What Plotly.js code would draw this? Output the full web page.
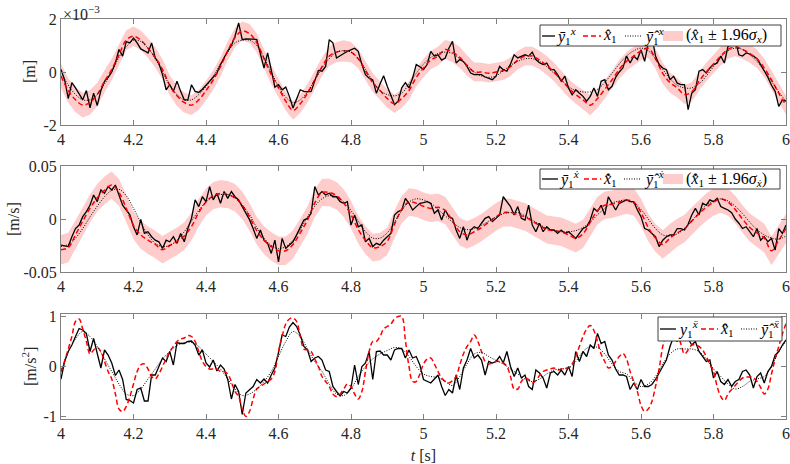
<!DOCTYPE html>
<html>
<head>
<meta charset="utf-8">
<script src="https://cdn.plot.ly/plotly-3.0.1.min.js"></script>
<style>html,body{margin:0;padding:0;background:#fff;}#chart{width:790px;height:464px;}</style>
</head>
<body>
<div id="chart"></div>
<script>
// ---------------- DATA ----------------
// Time grids: noisy measurements every 0.01 s, estimates every 0.02 s, from 4 s to 6 s
var tStart = 4, dtMeas = 0.01, dtEst = 0.02;

// Panel 1: position [m], values in units of 1e-3 m
var posMeas = [0.1,-0.3,-1.0,-0.4,-0.6,-0.85,-1.05,-0.7,-1.35,-0.8,
 -1.27,-0.7,-0.35,-0.2,0.0,0.35,0.85,0.6,1.15,1.1,
 1.28,1.1,0.87,0.8,0.72,1.1,0.53,0.34,-0.1,-0.67,
 -0.48,-0.73,-0.35,-0.73,-1.05,-1.05,-0.48,-0.73,-0.77,-0.65,
 -0.5,-0.35,-0.2,-0.04,0.28,0.55,0.8,1.0,1.35,1.85,
 1.22,1.25,1.25,1.24,1.22,0.72,0.15,0.72,0.03,-0.57,
 -0.48,-0.67,-0.57,-0.92,-1.36,-0.98,-0.67,-0.73,-0.75,-0.73,
 -0.35,0.06,0.03,0.21,1.22,1.1,0.53,0.6,0.7,0.78,
 0.85,0.9,0.78,0.28,-0.1,-0.23,-0.3,-0.8,-0.45,-0.14,
 -0.54,-0.9,-1.23,-1.1,-0.6,-0.4,-0.6,-0.23,0.28,0.2,
 0.09,0.28,0.78,0.6,0.65,0.45,0.53,0.9,1.16,0.34,
 0.47,0.4,0.21,-0.04,-0.1,-0.1,-0.1,-0.19,-0.25,-0.29,
 -0.16,0.21,0.09,0.03,0.3,0.65,0.53,0.6,0.65,0.6,
 0.75,0.47,0.35,0.28,0.34,0.09,0.09,-0.1,-0.35,-0.16,
 -0.6,-0.86,-0.67,-0.8,-0.92,-1.1,-0.92,-0.6,-0.92,-0.35,
 -0.29,-0.67,-0.54,-0.2,0.0,0.15,0.6,0.34,0.6,0.47,
 0.84,0.4,1.1,1.35,0.6,0.28,0.15,0.09,-0.29,-0.16,
 -0.42,-0.48,-0.48,-1.42,-0.8,-0.67,0.03,0.09,-0.04,0.15,
 0.28,0.34,0.6,0.34,0.97,1.03,1.22,0.65,0.6,0.72,
 0.68,0.6,0.5,0.28,0.05,-0.2,-0.5,-0.73,-1.3,-1.05,
 -1.1];
var posEst = [-0.15,-0.7,-1.05,-1.25,-1.15,-0.85,-0.35,0.1,0.65,1.2,
 1.35,1.2,0.9,0.55,0.1,-0.5,-0.9,-1.15,-1.25,-1.05,
 -0.7,-0.3,0.2,0.8,1.3,1.55,1.45,1.1,0.5,-0.1,
 -0.6,-1.1,-1.45,-1.2,-0.8,-0.3,0.2,0.6,0.75,0.8,
 0.75,0.5,0.05,-0.4,-0.7,-1.0,-1.2,-1.0,-0.7,-0.2,
 0.15,0.45,0.6,0.85,0.75,0.55,0.25,0.0,0.0,-0.05,
 0.0,0.05,0.2,0.45,0.6,0.6,0.45,0.25,0.0,-0.3,
 -0.6,-0.85,-1.05,-1.25,-1.0,-0.65,-0.3,0.1,0.4,0.6,
 0.8,0.9,0.5,-0.05,-0.4,-0.6,-0.85,-0.75,-0.35,0.0,
 0.3,0.6,0.85,0.95,0.85,0.7,0.5,0.15,-0.3,-0.8,
 -1.25];
var posSmooth = [0.0,-0.5,-0.85,-1.05,-1.05,-0.85,-0.45,0.0,0.55,0.95,
 1.2,1.15,0.9,0.5,0.0,-0.5,-0.85,-1.05,-1.05,-0.85,
 -0.55,-0.15,0.3,0.75,1.1,1.2,1.2,1.0,0.55,0.0,
 -0.55,-0.95,-1.15,-1.05,-0.75,-0.3,0.15,0.5,0.75,0.8,
 0.75,0.5,0.1,-0.35,-0.7,-0.85,-0.9,-0.8,-0.45,-0.05,
 0.3,0.55,0.7,0.75,0.7,0.5,0.25,0.0,-0.15,-0.2,
 -0.15,0.05,0.25,0.4,0.5,0.5,0.4,0.2,-0.05,-0.3,
 -0.55,-0.7,-0.75,-0.75,-0.65,-0.4,-0.05,0.3,0.6,0.8,
 0.9,0.8,0.5,0.1,-0.25,-0.5,-0.6,-0.6,-0.45,-0.15,
 0.2,0.55,0.8,0.9,0.85,0.65,0.4,0.05,-0.35,-0.75,
 -1.1];
var posBand = [0.45,0.46,0.47,0.47,0.46,0.44,0.42,0.4,0.39,0.38,
 0.37,0.37,0.37,0.38,0.38,0.38,0.38,0.38,0.37,0.37,
 0.37,0.37,0.36,0.36,0.36,0.36,0.36,0.36,0.36,0.36,
 0.35,0.35,0.35,0.35,0.35,0.35,0.35,0.36,0.38,0.4,
 0.38,0.36,0.35,0.35,0.35,0.35,0.35,0.35,0.35,0.35,
 0.35,0.35,0.35,0.36,0.38,0.4,0.38,0.36,0.35,0.35,
 0.35,0.35,0.35,0.35,0.35,0.35,0.35,0.35,0.35,0.35,
 0.35,0.35,0.36,0.38,0.36,0.35,0.35,0.35,0.35,0.35,
 0.35,0.36,0.38,0.4,0.38,0.36,0.36,0.36,0.35,0.35,
 0.35,0.35,0.35,0.36,0.36,0.35,0.35,0.35,0.35,0.35,
 0.35];

// Panel 2: velocity [m/s], values in units of 1e-2 m/s
var velMeas = [-2.46,-2.55,-2.6,-1.67,-0.9,-0.57,0.22,0.7,1.3,2.27,
 1.64,2.74,2.43,3.06,2.74,3.2,2.27,1.3,0.85,0.4,
 -0.73,-1.5,-0.03,-1.36,-1.2,-1.67,-2.0,-2.15,-2.78,-2.0,
 -2.15,-1.67,-2.3,-1.36,-2.15,-0.9,0.06,1.8,1.17,2.1,
 1.64,3.06,1.8,2.43,1.48,2.59,1.95,2.59,2.1,1.8,
 1.17,0.54,-0.06,-0.9,-1.83,-1.04,-2.0,-2.3,-3.25,-2.0,
 -4.04,-1.83,-2.78,-2.46,-2.15,-1.5,-0.73,-0.1,0.06,0.54,
 3.06,2.27,2.59,2.27,2.43,2.1,2.1,1.64,1.48,1.64,
 -0.57,0.38,-0.73,-0.57,-2.15,-1.83,-2.6,-2.3,-2.45,-2.0,
 -1.67,-1.36,0.38,0.7,0.85,1.95,1.48,0.85,1.17,1.48,
 1.55,1.64,1.48,0.54,0.85,-0.1,0.85,0.22,0.06,-1.04,
 -1.83,-0.73,-2.0,-1.04,-0.73,-0.9,-0.4,0.06,0.22,-0.25,
 0.06,0.38,2.1,1.64,1.17,0.38,1.17,0.06,-0.1,1.3,
 -0.57,-1.2,-0.4,-1.2,-0.73,-1.04,-1.04,-1.36,-1.04,-1.36,
 -1.2,-1.5,-1.83,-1.36,-0.9,-0.73,-0.1,1.0,0.7,1.3,
 0.38,2.1,1.48,0.85,1.48,1.64,1.8,1.64,1.64,0.85,
 0.22,-0.9,-1.04,-1.36,-1.67,-2.6,-2.0,-1.67,-1.5,-1.5,
 -0.9,-0.9,-1.04,-0.5,0.38,1.0,0.38,1.48,1.3,1.8,
 1.64,1.95,1.17,1.0,0.85,0.6,0.0,-0.4,-0.9,-0.73,
 -1.2,-1.67,-0.9,-2.0,-1.67,-2.15,-1.83,-2.93,-0.9,-1.36,
 -0.57];
var velEst = [-2.9,-2.7,-1.5,-0.2,1.0,2.0,2.7,3.2,2.5,1.0,
 -0.6,-1.5,-2.0,-2.4,-2.9,-2.5,-2.1,-1.6,-0.7,0.6,
 1.6,2.2,2.4,2.3,2.0,1.3,0.2,-1.1,-2.0,-2.6,
 -3.0,-3.0,-2.4,-1.3,-0.1,1.5,2.5,2.5,2.2,1.5,
 0.4,-1.0,-2.0,-2.7,-2.6,-2.1,-0.5,0.9,1.6,1.5,
 1.2,1.0,1.1,0.8,-0.2,-1.2,-1.5,-1.2,-0.8,-0.3,
 0.2,0.6,0.6,0.4,0.2,-0.2,-0.6,-1.0,-1.1,-1.2,
 -1.5,-1.8,-1.4,-0.3,0.8,1.3,1.4,1.6,1.8,1.6,
 0.6,-0.8,-1.8,-2.4,-1.8,-1.3,-0.9,-0.2,0.5,1.1,
 1.6,1.9,1.6,0.9,0.0,-0.8,-1.3,-1.8,-3.0,-2.0,
 -0.9];
var velSmooth = [-2.6,-2.4,-1.8,-0.9,0.2,1.2,2.1,2.7,2.8,2.2,
 1.0,-0.3,-1.5,-2.3,-2.6,-2.5,-2.0,-1.2,-0.2,0.8,
 1.6,2.1,2.3,2.3,2.0,1.3,0.4,-0.8,-1.8,-2.5,
 -2.8,-2.6,-2.0,-1.0,0.2,1.2,1.9,2.2,2.1,1.6,
 0.8,-0.2,-1.2,-1.8,-1.8,-1.3,-0.3,0.8,1.6,1.9,
 1.8,1.5,0.9,0.3,-0.3,-0.8,-1.0,-0.9,-0.6,-0.2,
 0.2,0.5,0.6,0.6,0.3,-0.1,-0.5,-0.9,-1.1,-1.2,
 -1.2,-1.1,-0.8,-0.3,0.4,1.0,1.5,1.7,1.8,1.5,
 0.9,0.0,-0.9,-1.5,-1.6,-1.4,-0.9,-0.2,0.6,1.3,
 1.7,1.9,1.7,1.2,0.5,-0.3,-1.0,-1.5,-1.8,-1.9,
 -1.6];
var velBand = [1.4,1.4,1.38,1.35,1.32,1.3,1.3,1.28,1.28,1.28,
 1.3,1.3,1.3,1.3,1.3,1.3,1.3,1.3,1.3,1.3,
 1.28,1.28,1.28,1.28,1.3,1.3,1.3,1.3,1.32,1.34,
 1.35,1.35,1.34,1.32,1.3,1.3,1.3,1.3,1.3,1.3,
 1.3,1.3,1.32,1.32,1.3,1.3,1.3,1.3,1.3,1.3,
 1.3,1.3,1.3,1.3,1.3,1.3,1.3,1.3,1.3,1.3,
 1.3,1.3,1.3,1.3,1.3,1.3,1.3,1.32,1.34,1.35,
 1.35,1.35,1.34,1.32,1.3,1.3,1.3,1.3,1.3,1.3,
 1.3,1.3,1.32,1.35,1.35,1.32,1.3,1.3,1.3,1.3,
 1.3,1.3,1.3,1.3,1.3,1.32,1.34,1.35,1.36,1.36,
 1.36];

// Panel 3: acceleration [m/s^2]
var accMeas = [-0.25,0.1,0.3,0.43,0.6,0.76,0.73,0.66,0.3,0.56,
 0.26,-0.03,0.33,0.23,0.07,-0.18,-0.07,-0.26,-0.66,-0.68,
 -0.73,-0.46,-0.43,-0.69,-0.69,-0.17,-0.17,0.0,0.17,0.1,
 0.3,0.03,0.48,0.46,0.46,0.5,0.51,0.43,0.23,0.33,
 0.07,-0.01,0.13,-0.09,0.03,-0.05,-0.26,-0.65,-0.36,-0.5,
 -0.96,-0.53,-0.46,-0.4,-0.26,-0.33,-0.25,-0.33,-0.17,-0.03,
 0.28,0.63,0.6,0.79,0.88,0.8,0.63,0.4,0.33,0.1,
 0.17,0.2,0.13,-0.07,-0.1,-0.4,-0.5,-0.59,-0.5,-0.53,
 -0.43,0.03,-0.36,0.0,0.07,0.3,-0.26,0.3,0.31,0.23,
 0.23,0.13,0.33,0.36,0.36,0.17,0.33,0.17,0.2,0.03,
 -0.26,-0.3,-0.33,-0.25,-0.17,-0.4,-0.58,-0.46,-0.53,-0.17,
 -0.46,-0.03,0.13,0.36,0.17,0.23,0.13,-0.17,0.1,0.07,
 0.1,0.2,0.07,0.3,0.0,-0.2,-0.03,-0.23,-0.17,-0.4,
 -0.46,-0.07,-0.13,-0.23,-0.43,-0.13,-0.1,-0.17,-0.07,-0.17,
 0.0,-0.2,0.3,0.1,0.3,0.2,0.43,0.36,0.66,0.46,
 0.5,0.23,0.13,-0.05,-0.17,-0.17,-0.2,-0.46,-0.33,-0.46,
 -0.26,-0.4,-0.4,-0.36,-0.26,-0.13,0.0,0.13,0.4,0.6,
 0.5,0.7,0.53,0.56,0.43,0.5,0.3,0.2,0.1,0.13,
 -0.23,-0.1,-0.3,-0.36,-0.26,-0.4,-0.3,-0.26,-0.1,-0.07,
 -0.17,-0.43,-0.2,-0.13,-0.33,-0.1,0.0,0.23,0.3,0.43,
 0.53];
var accEst = [-0.1,0.1,0.35,0.6,0.9,0.95,0.75,0.5,0.25,0.33,
 0.38,0.3,0.1,-0.1,-0.25,-0.55,-0.85,-0.9,-0.8,-0.6,
 -0.35,-0.1,0.03,0.05,-0.05,-0.2,-0.25,-0.15,0.0,0.15,
 0.3,0.4,0.5,0.55,0.57,0.62,0.6,0.5,0.3,0.1,
 0.0,-0.05,-0.05,-0.05,-0.1,-0.1,-0.15,-0.3,-0.5,-0.6,
 -0.85,-1.0,-0.9,-0.65,-0.45,-0.4,-0.35,-0.3,-0.25,-0.1,
 0.3,0.6,0.85,0.95,0.97,0.9,0.6,0.35,0.33,0.3,
 0.15,0.0,-0.2,-0.3,-0.4,-0.55,-0.6,-0.55,-0.45,-0.35,
 -0.4,-0.55,-0.65,-0.5,-0.1,0.3,0.5,0.5,0.6,0.75,
 0.8,0.85,0.95,1.0,1.0,0.53,0.0,-0.3,-0.3,-0.15,
 0.05,0.15,0.17,0.05,-0.1,-0.23,-0.3,-0.33,-0.28,-0.2,
 0.03,0.25,0.4,0.5,0.63,0.5,0.3,0.1,0.05,0.07,
 0.1,0.1,0.07,0.0,-0.2,-0.45,-0.45,-0.3,-0.23,-0.26,
 -0.33,-0.28,-0.18,-0.1,-0.07,-0.05,-0.03,-0.07,-0.05,-0.03,
 -0.03,0.05,0.2,0.4,0.6,0.75,0.82,0.72,0.5,0.25,
 0.1,-0.03,0.0,0.1,0.2,0.26,0.15,-0.1,-0.3,-0.5,
 -0.78,-0.9,-0.85,-0.7,-0.4,-0.05,0.4,0.65,0.85,0.85,
 0.7,0.45,0.25,0.33,0.43,0.43,0.4,0.33,0.2,0.05,
 -0.1,-0.4,-0.6,-0.68,-0.55,-0.46,-0.38,-0.3,-0.23,-0.21,
 -0.21,-0.22,-0.3,-0.42,-0.55,-0.45,-0.15,0.15,0.4,0.65,
 0.86];
var accSmooth = [-0.1,0.3,0.55,0.7,0.6,0.4,0.15,-0.1,-0.35,-0.55,
 -0.58,-0.45,-0.25,-0.05,0.15,0.3,0.42,0.48,0.48,0.4,
 0.25,0.1,-0.05,-0.25,-0.45,-0.58,-0.55,-0.45,-0.3,-0.1,
 0.2,0.5,0.7,0.6,0.35,0.1,-0.1,-0.35,-0.55,-0.58,
 -0.45,-0.2,0.0,0.15,0.25,0.32,0.38,0.35,0.2,0.0,
 -0.15,-0.2,-0.22,-0.3,-0.38,-0.2,0.05,0.25,0.28,0.2,
 0.12,0.05,-0.05,-0.15,-0.25,-0.3,-0.25,-0.15,-0.07,-0.05,
 -0.03,0.1,0.3,0.4,0.38,0.25,0.05,-0.1,-0.15,-0.3,
 -0.4,-0.35,-0.2,0.05,0.25,0.35,0.35,0.35,0.3,0.15,
 -0.05,-0.2,-0.35,-0.45,-0.4,-0.3,-0.25,-0.2,0.0,0.3,
 0.5];

// Tick labels
var xTickVals = [4,4.2,4.4,4.6,4.8,5,5.2,5.4,5.6,5.8,6];
var xTickText = ['4','4.2','4.4','4.6','4.8','5','5.2','5.4','5.6','5.8','6'];
var posTickVals = [-2,0,2], posTickText = ['-2','0','2'];
var velTickVals = [-5,0,5], velTickText = ['-0.05','0','0.05'];
var accTickVals = [-1,0,1], accTickText = ['-1','0','1'];

// Axis titles
var yTitles = ['[m]', '[m/s]', '[m/s<sup>2</sup>]'];
var xTitle = '<i>t</i> [s]';
var expLabel = '\u00d710<sup>\u22123</sup>';

// Legend labels
var HAT='\u0302', BAR='\u0304', DOT='\u0307', DDOT='\u0308';
var legPos = ['<i>y'+BAR+'</i><sub>1</sub><sup><i>x</i></sup>', '<i>x'+HAT+'</i><sub>1</sub>',
  '<i>y'+BAR+HAT+'</i><sub>1</sub><sup><i>x</i></sup>', '(<i>x'+HAT+'</i><sub>1</sub> \u00b1 1.96<i>\u03c3</i><sub><i>x</i></sub>)'];
var legVel = ['<i>y'+BAR+'</i><sub>1</sub><sup><i>x'+DOT+'</i></sup>', '<i>x'+HAT+DOT+'</i><sub>1</sub>',
  '<i>y'+BAR+HAT+'</i><sub>1</sub><sup><i>x'+DOT+'</i></sup>', '(<i>x'+HAT+DOT+'</i><sub>1</sub> \u00b1 1.96<i>\u03c3</i><sub><i>x'+DOT+'</i></sub>)'];
var legAcc = ['<i>y</i><sub>1</sub><sup><i>x'+DDOT+'</i></sup>', '<i>x'+HAT+DDOT+'</i><sub>1</sub>',
  '<i>y'+BAR+HAT+'</i><sub>1</sub><sup><i>x'+DDOT+'</i></sup>'];

// ---------------- BUILD ----------------
function grid(n, dt){ var a=[]; for(var i=0;i<n;i++){ a.push(+(tStart+i*dt).toFixed(4)); } return a; }
var FONT = '"Liberation Serif", serif';
var TXT = '#262626';
var BLACK='#000000', RED='#ff0000', PINK='rgb(255,204,204)';
var W = 790, H = 464, PL = 61, PR = 4, PW = W-PL-PR;
function px(x){ return (x-PL)/PW; }
function py(y){ return 1-y/H; }

var STY = {
  meas:{color:BLACK, width:1.3, dash:'solid'},
  est:{color:RED, width:1.5, dash:'5px,3px'},
  smooth:{color:BLACK, width:1, dash:'1px,1.5px'}
};

function band(est, hw, xa, ya, name){
  var t = grid(est.length, dtEst);
  var up = est.map(function(v,i){return v+hw[i];});
  var lo = est.map(function(v,i){return v-hw[i];});
  return {x:t.concat(t.slice().reverse()), y:up.concat(lo.slice().reverse()), type:'scatter', mode:'lines',
    fill:'toself', fillcolor:PINK, line:{width:0, color:PINK}, name:name, showlegend:false,
    xaxis:xa, yaxis:ya, hoverinfo:'skip'};
}
function line(v, dt, sty, shape, xa, ya, name){
  return {x:grid(v.length, dt), y:v, type:'scatter', mode:'lines',
    line:{color:sty.color,width:sty.width,dash:sty.dash,shape:shape},
    name:name, showlegend:false, xaxis:xa, yaxis:ya};
}

var data = [
  band(posEst, posBand, 'x', 'y', legPos[3]),
  line(posMeas, dtMeas, STY.meas, 'linear', 'x', 'y', legPos[0]),
  line(posEst, dtEst, STY.est, 'spline', 'x', 'y', legPos[1]),
  line(posSmooth, dtEst, STY.smooth, 'spline', 'x', 'y', legPos[2]),
  band(velEst, velBand, 'x2', 'y2', legVel[3]),
  line(velMeas, dtMeas, STY.meas, 'linear', 'x2', 'y2', legVel[0]),
  line(velEst, dtEst, STY.est, 'spline', 'x2', 'y2', legVel[1]),
  line(velSmooth, dtEst, STY.smooth, 'spline', 'x2', 'y2', legVel[2]),
  line(accMeas, dtMeas, STY.meas, 'linear', 'x3', 'y3', legAcc[0]),
  line(accEst, dtMeas, STY.est, 'spline', 'x3', 'y3', legAcc[1]),
  line(accSmooth, dtEst, STY.smooth, 'spline', 'x3', 'y3', legAcc[2])
];

function xax(anchor){
  return {anchor:anchor, domain:[0,1], range:[4,6], tickmode:'array', tickvals:xTickVals, ticktext:xTickText,
    ticks:'inside', ticklen:5, tickcolor:'#808080', showline:true, linecolor:'#808080', linewidth:1, mirror:'ticks',
    showgrid:false, zeroline:false, ticklabeloverflow:'allow', tickfont:{family:FONT,size:16,color:TXT}};
}
function yax(anchor, dom, rng, tv, tt){
  return {anchor:anchor, domain:dom, range:rng, tickmode:'array', tickvals:tv, ticktext:tt,
    ticks:'inside', ticklen:5, tickcolor:'#808080', showline:true, linecolor:'#808080', linewidth:1, mirror:'ticks',
    showgrid:false, zeroline:false, ticklabeloverflow:'allow', tickfont:{family:FONT,size:16,color:TXT}};
}
var x3 = xax('y3');
x3.title = {text:xTitle, font:{family:FONT,size:16,color:TXT}, standoff:9};

var shapes = [], annotations = [];
// y-axis titles, placed beside each panel's tick labels
[[30,72],[13,219],[29,367]].forEach(function(p,i){
  annotations.push({xref:'paper', yref:'paper', x:px(p[0]), y:py(p[1]), xanchor:'center', yanchor:'middle',
    textangle:-90, showarrow:false, text:yTitles[i], font:{family:FONT,size:16,color:TXT}});
});
// exponent of the top axis
annotations.push({xref:'paper', yref:'paper', x:0, y:py(1), xanchor:'left', yanchor:'top', showarrow:false,
  text:expLabel, font:{family:FONT,size:16,color:TXT}});

// Hand-placed legends (box + samples + labels), one per panel
function legend(box, cy, items){
  shapes.push({type:'rect', xref:'paper', yref:'paper', x0:px(box[0]), x1:px(box[1]), y0:py(box[3]), y1:py(box[2]),
    fillcolor:'#ffffff', line:{color:'#404040', width:1}, layer:'above'});
  items.forEach(function(it){
    if(it.kind === 'band'){
      shapes.push({type:'rect', xref:'paper', yref:'paper', x0:px(it.s0), x1:px(it.s1), y0:py(cy+5), y1:py(cy-5),
        fillcolor:PINK, line:{width:0}, layer:'above'});
    } else {
      var s = STY[it.kind];
      shapes.push({type:'line', xref:'paper', yref:'paper', x0:px(it.s0), x1:px(it.s1), y0:py(cy), y1:py(cy),
        line:{color:s.color, width:s.width, dash:s.dash}, layer:'above'});
    }
    annotations.push({xref:'paper', yref:'paper', x:px(it.tx), y:py(cy), xanchor:'left', yanchor:'middle',
      showarrow:false, text:it.label, font:{family:FONT,size:16,color:'#000000'}});
  });
}
legend([540,781,25,46], 36, [
  {kind:'meas', s0:542, s1:555, tx:554, label:legPos[0]},
  {kind:'est', s0:583, s1:601, tx:601, label:legPos[1]},
  {kind:'smooth', s0:625, s1:642, tx:642, label:legPos[2]},
  {kind:'band', s0:663, s1:683, tx:684, label:legPos[3]}
]);
legend([540,780,169,189], 179, [
  {kind:'meas', s0:542, s1:558, tx:557, label:legVel[0]},
  {kind:'est', s0:584, s1:601, tx:601, label:legVel[1]},
  {kind:'smooth', s0:624, s1:640, tx:642, label:legVel[2]},
  {kind:'band', s0:663, s1:683, tx:684, label:legVel[3]}
]);
legend([658,782,317,341], 329, [
  {kind:'meas', s0:660, s1:676, tx:676, label:legAcc[0]},
  {kind:'est', s0:701, s1:718, tx:718, label:legAcc[1]},
  {kind:'smooth', s0:741, s1:757, tx:757, label:legAcc[2]}
]);

var layout = {
  width:W, height:H, paper_bgcolor:'#ffffff', plot_bgcolor:'#ffffff',
  margin:{l:PL, r:PR, t:0, b:0},
  showlegend:false,
  xaxis:xax('y'), xaxis2:xax('y2'), xaxis3:x3,
  yaxis:yax('x', [py(125), py(19)], [-2,2], posTickVals, posTickText),
  yaxis2:yax('x2', [py(272), py(166)], [-5,5], velTickVals, velTickText),
  yaxis3:yax('x3', [py(419), py(314)], [-1.05,1.05], accTickVals, accTickText),
  shapes:shapes, annotations:annotations
};

Plotly.newPlot('chart', data, layout, {displayModeBar:false, staticPlot:true});
</script>
</body>
</html>
